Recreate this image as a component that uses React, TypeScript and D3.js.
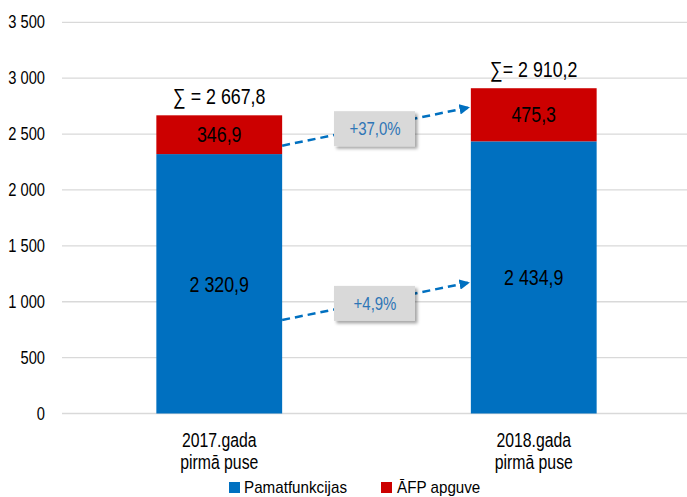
import React from "react";
import * as d3 from "d3";

const categories = ["2017.gada|pirmā puse", "2018.gada|pirmā puse"];
const seriesNames = ["Pamatfunkcijas", "ĀFP apguve"];
const pamatfunkcijas = [2320.9, 2434.9];
const afpApguve = [346.9, 475.3];
const sumLabels = ["∑ = 2 667,8", "∑= 2 910,2"];
const yTicks = [0, 500, 1000, 1500, 2000, 2500, 3000, 3500];
// change annotations: [start value at bar 1, end value at bar 2, label]
const changeLabels = ["+37,0%", "+4,9%"];
const changeFrom = [2396, 837];
const changeTo = [2736, 1169];

const W = 687;
const H = 497;
const FONT = "'Liberation Sans', Arial, sans-serif";
const BLUE = "#0070C0";
const RED = "#CC0000";
const GRID = "#D9D9D9";
const NARROW = 0.81;

const fmt = (v: number) => {
  const [i, f] = v.toFixed(1).split(".");
  const s = i.replace(/\B(?=(\d{3})+(?!\d))/g, " ");
  return `${s},${f}`;
};
const fmtTick = (v: number) => String(v).replace(/\B(?=(\d{3})+(?!\d))/g, " ");

function T(props: {
  x: number;
  y: number;
  size: number;
  anchor?: "start" | "middle" | "end";
  dy?: string;
  fill?: string;
  sx?: number;
  children: React.ReactNode;
}) {
  const { x, y, size, anchor = "start", dy, fill = "#000", sx = NARROW, children } = props;
  return (
    <text
      transform={`translate(${x},${y}) scale(${sx},1)`}
      textAnchor={anchor}
      dy={dy}
      fontSize={size}
      fill={fill}
    >
      {children}
    </text>
  );
}

export default function App() {
  const y = d3.scaleLinear().domain([0, 3500]).range([413.5, 22.3]);
  const x = d3.scalePoint<string>().domain(categories).range([62, 691]).padding(0.5);
  const step = x.step();
  const bw = step * 0.4;

  return (
    <svg width={W} height={H} style={{ display: "block", position: "absolute", left: 0, top: 0 }} fontFamily={FONT}>
      <defs>
        <filter id="sh" x="-20%" y="-20%" width="150%" height="160%">
          <feDropShadow dx="2.5" dy="2.5" stdDeviation="1.5" floodColor="#000" floodOpacity="0.35" />
        </filter>
        <marker id="ah" viewBox="0 0 10 10" refX="8" refY="5" markerWidth="4.2" markerHeight="4.2" orient="auto" markerUnits="strokeWidth">
          <path d="M0,0 L10,5 L0,10 z" fill={BLUE} />
        </marker>
      </defs>
      {yTicks.map((t) => (
        <g key={t}>
          <line x1={62} x2={W} y1={y(t)} y2={y(t)} stroke={GRID} strokeWidth={1.3} />
          <T x={45} y={y(t)} dy="0.35em" anchor="end" size={17.5} sx={0.84}>
            {fmtTick(t)}
          </T>
        </g>
      ))}
      {categories.map((c, i) => {
        const cx = x(c)!;
        const x0 = cx - bw / 2;
        const b = pamatfunkcijas[i];
        const r = afpApguve[i];
        const [l1, l2] = c.split("|");
        return (
          <g key={c}>
            <rect x={x0} width={bw} y={y(b)} height={y(0) - y(b)} fill={BLUE} />
            <rect x={x0} width={bw} y={y(b + r)} height={y(b) - y(b + r)} fill={RED} />
            <T x={cx} y={(y(0) + y(b)) / 2} dy="0.35em" anchor="middle" size={22}>
              {fmt(b)}
            </T>
            <T x={cx} y={(y(b) + y(b + r)) / 2} dy="0.35em" anchor="middle" size={22}>
              {fmt(r)}
            </T>
            <T x={cx} y={y(b + r) - 11} anchor="middle" size={22}>
              {sumLabels[i]}
            </T>
            <T x={cx} y={447} anchor="middle" size={19.5}>{l1}</T>
            <T x={cx} y={469} anchor="middle" size={19.5}>{l2}</T>
          </g>
        );
      })}
      {changeLabels.map((lab, i) => {
        const xs = x(categories[0])! + bw / 2;
        const xe = x(categories[1])! - bw / 2 - 3;
        const ys = y(changeFrom[i]);
        const ye = y(changeTo[i]);
        const mx = (xs + xe) / 2;
        const my = (ys + ye) / 2 + 2;
        return (
          <g key={lab}>
            <line x1={xs} y1={ys} x2={xe} y2={ye} stroke={BLUE} strokeWidth={2.5} strokeDasharray="8 5" markerEnd="url(#ah)" />
            <rect x={mx - 41} y={my - 17.5} width={81} height={35} fill="#D9D9D9" filter="url(#sh)" />
            <T x={mx} y={my} dy="0.35em" anchor="middle" size={18.5} fill="#2E75B6">
              {lab}
            </T>
          </g>
        );
      })}
      <g>
        <rect x={229} y={482} width={11} height={11} fill={BLUE} />
        <T x={244} y={493} size={16} sx={0.95}>{seriesNames[0]}</T>
        <rect x={381} y={482} width={11} height={11} fill={RED} />
        <T x={397} y={493} size={16} sx={0.95}>{seriesNames[1]}</T>
      </g>
    </svg>
  );
}
